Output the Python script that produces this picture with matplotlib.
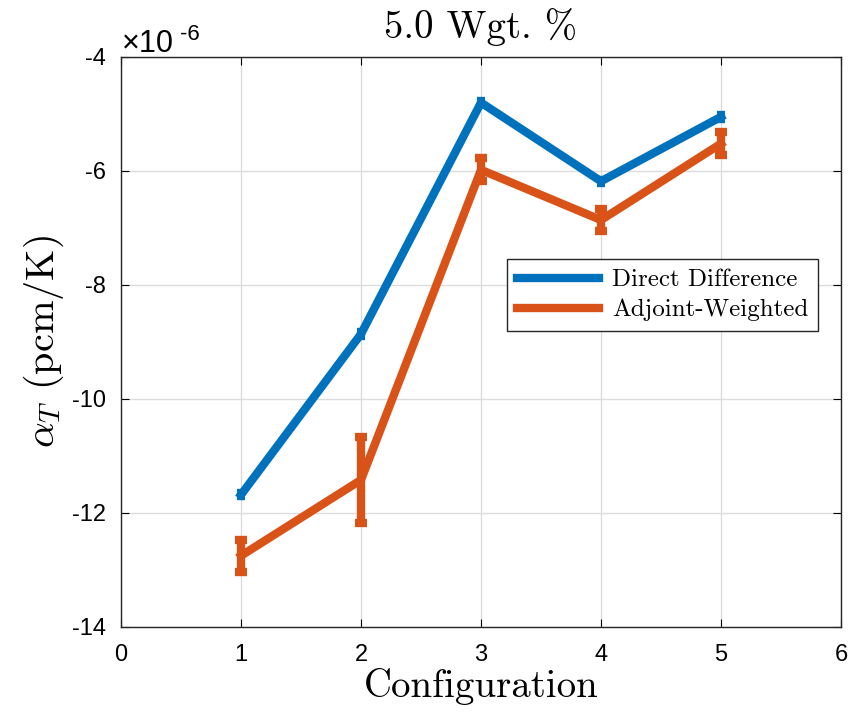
import matplotlib.pyplot as plt

plt.rcParams['mathtext.fontset'] = 'cm'
plt.rcParams['font.family'] = ['Liberation Sans', 'DejaVu Sans']
plt.rcParams['axes.unicode_minus'] = False

config = [1, 2, 3, 4, 5]
direct_diff = [-11.68, -8.86, -4.80, -6.18, -5.05]
direct_err = [0.03, 0.03, 0.03, 0.03, 0.03]
adj_weighted = [-12.75, -11.42, -5.98, -6.86, -5.52]
adj_err = [0.28, 0.76, 0.20, 0.20, 0.20]

blue = '#0072BD'
orange = '#D95319'
serif = 'cmr10'

fig = plt.figure(figsize=(8.51, 7.24), dpi=100)
ax = fig.add_axes([121 / 851, 97 / 724, 720 / 851, 570 / 724])

ax.errorbar(config, direct_diff, yerr=direct_err, color=blue, lw=6,
            elinewidth=6, capsize=3, capthick=6, zorder=3)
ax.errorbar(config, adj_weighted, yerr=adj_err, color=orange, lw=6,
            elinewidth=6, capsize=4, capthick=6, zorder=3)
# legend handles: plain lines
ax.plot([], [], color=blue, lw=6, label='Direct Difference')
ax.plot([], [], color=orange, lw=6, label='Adjoint-Weighted')

ax.set_xlim(0, 6)
ax.set_ylim(-14, -4)
ax.set_xticks(range(0, 7))
ax.set_yticks(range(-14, -3, 2))
ax.tick_params(direction='in', labelsize=17, length=6, top=True, right=True)
ax.tick_params(axis='x', pad=12)
ax.tick_params(axis='y', pad=11)
ax.grid(True, color='#dcdcdc', lw=1)
ax.set_axisbelow(True)
for s in ax.spines.values():
    s.set_linewidth(1.0)
    s.set_color('#262626')

# exponent label like MATLAB
ax.annotate('\u00d710', xy=(0, 1), xycoords='axes fraction', xytext=(1, 3.6),
            textcoords='offset points', fontsize=22, va='baseline', ha='left')
ax.annotate('-6', xy=(0, 1), xycoords='axes fraction', xytext=(42.5, 12),
            textcoords='offset points', fontsize=16, va='baseline', ha='left')

ax.set_title('5.0 Wgt. %', fontsize=28, pad=14, family=serif)
ax.set_xlabel('Configuration', fontsize=28, labelpad=2, family=serif)
ax.set_ylabel(r'$\alpha_T$ (pcm/K)', fontsize=29, labelpad=4, family=serif)

leg = ax.legend(loc='upper right', bbox_to_anchor=(0.968, 0.646),
                prop={'family': serif, 'size': 18}, fancybox=False,
                edgecolor='#262626', framealpha=1, handlelength=3.3,
                handletextpad=0.5, borderpad=0.4, labelspacing=0.3,
                borderaxespad=0)
leg.get_frame().set_linewidth(1.0)

fig.savefig('out.png', dpi=100)
